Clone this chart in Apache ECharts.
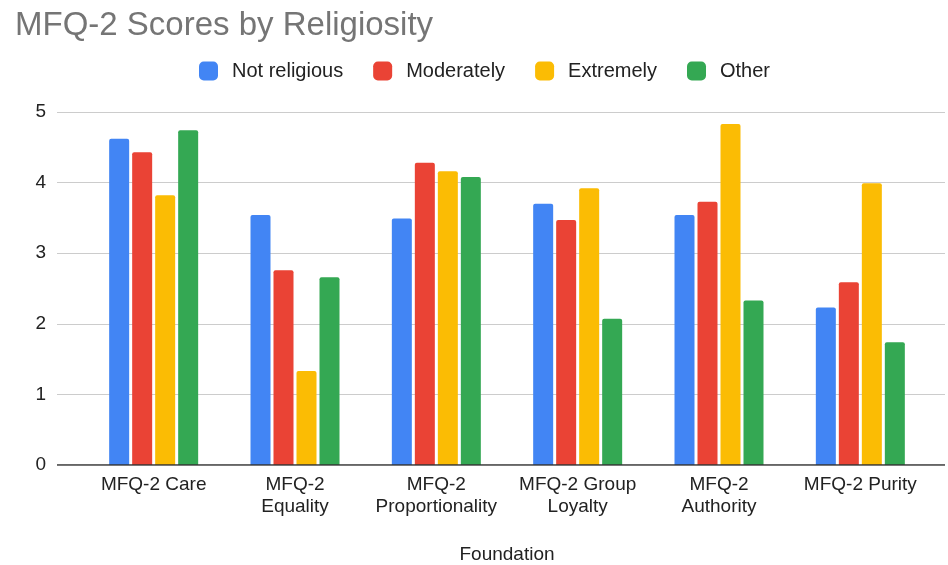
<!DOCTYPE html>
<html>
<head>
<meta charset="utf-8">
<script src="https://cdn.jsdelivr.net/npm/echarts@6/dist/echarts.min.js"></script>
<style>
  html, body { margin: 0; padding: 0; background: #fff; }
  #chart { width: 948px; height: 565px; }
</style>
</head>
<body>
<div id="chart"></div>
<script>
// Foundations on the x axis
const foundations = [
  'MFQ-2 Care',
  'MFQ-2\nEquality',
  'MFQ-2\nProportionality',
  'MFQ-2 Group\nLoyalty',
  'MFQ-2\nAuthority',
  'MFQ-2 Purity'
];

// Mean scores for each religiosity group
const notReligious = [4.62, 3.54, 3.49, 3.70, 3.54, 2.23];
const moderately   = [4.43, 2.76, 4.28, 3.47, 3.73, 2.59];
const extremely    = [3.82, 1.33, 4.16, 3.92, 4.83, 3.99];
const other        = [4.74, 2.66, 4.08, 2.07, 2.33, 1.74];

const yTicks = [0, 1, 2, 3, 4, 5];

const groupNames = ['Not religious', 'Moderately', 'Extremely', 'Other'];
const groupValues = [notReligious, moderately, extremely, other];
const groupColors = ['#4285F4', '#EA4335', '#FBBC04', '#34A853'];

const FONT = '"Liberation Sans", Arial, sans-serif';

const chart = echarts.init(document.getElementById('chart'), null, { renderer: 'canvas' });

const series = groupNames.map((name, i) => ({
  name,
  type: 'bar',
  xAxisIndex: 1,
  yAxisIndex: 1,
  data: groupValues[i],
  barWidth: 20,
  barGap: '15%',
  itemStyle: { color: groupColors[i], borderRadius: [2, 2, 0, 0] },
  emphasis: { disabled: true }
}));

chart.setOption({
  animation: false,
  backgroundColor: '#ffffff',
  title: {
    text: 'MFQ-2 Scores by Religiosity',
    left: 10,
    top: 4,
    textStyle: { fontFamily: FONT, fontSize: 33, fontWeight: 'normal', color: '#757575' }
  },
  legend: {
    data: groupNames,
    left: 194,
    top: 56,
    itemWidth: 19,
    itemHeight: 19,
    itemGap: 30,
    icon: 'roundRect',
    textStyle: { fontFamily: FONT, fontSize: 20, color: '#222222', padding: [0, 0, 0, 9] }
  },
  grid: [
    { left: 57, right: 3, top: 112, bottom: 100, containLabel: false, outerBoundsMode: 'none' },
    { left: 83, right: 17, top: 112, bottom: 100, containLabel: false, outerBoundsMode: 'none' }
  ],
  xAxis: [
    {
      gridIndex: 0,
      type: 'value',
      min: 0, max: 1,
      axisLine: { show: false },
      axisTick: { show: false },
      axisLabel: { show: false },
      splitLine: { show: false }
    },
    {
      gridIndex: 1,
      type: 'category',
      data: foundations,
      axisLine: { show: false },
      axisTick: { show: false },
      axisLabel: {
        fontFamily: FONT, fontSize: 19, color: '#222222',
        lineHeight: 22, margin: 9, interval: 0
      },
      name: 'Foundation',
      nameLocation: 'middle',
      nameGap: 80,
      nameTextStyle: { fontFamily: FONT, fontSize: 19, color: '#222222' }
    }
  ],
  yAxis: [
    {
      gridIndex: 0,
      type: 'value',
      min: yTicks[0],
      max: yTicks[yTicks.length - 1],
      interval: 1,
      axisLine: { show: false },
      axisTick: { show: false },
      axisLabel: { fontFamily: FONT, fontSize: 19, color: '#222222', margin: 11 },
      splitLine: { lineStyle: { color: '#cccccc', width: 1 } }
    },
    {
      gridIndex: 1,
      type: 'value',
      min: yTicks[0],
      max: yTicks[yTicks.length - 1],
      interval: 1,
      axisLine: { show: false },
      axisTick: { show: false },
      axisLabel: { show: false },
      splitLine: { show: false }
    }
  ],
  series: [
    ...series,
    {
      // baseline across the full plot width
      type: 'line',
      xAxisIndex: 0,
      yAxisIndex: 0,
      data: [[0, 0], [1, 0]],
      symbol: 'none',
      lineStyle: { color: '#333333', width: 1.5 },
      silent: true,
      z: 5
    }
  ]
});
</script>
</body>
</html>
